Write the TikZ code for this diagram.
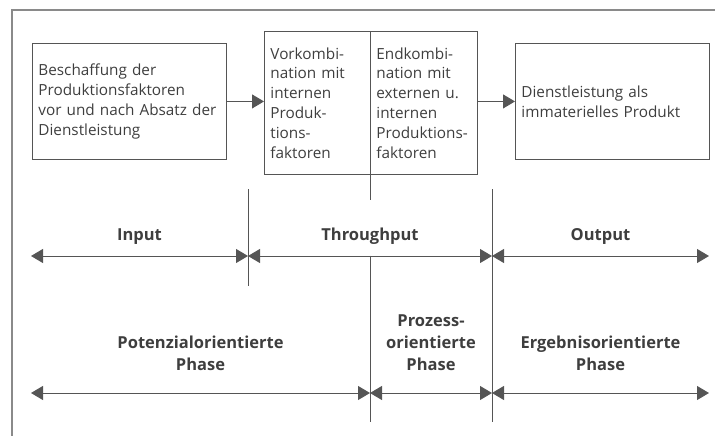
\documentclass[tikz,border=0pt]{standalone}
\usepackage{fontspec}
\setmainfont{Open Sans}
\usetikzlibrary{arrows.meta}
\definecolor{ink}{HTML}{3E3E3E}
\definecolor{frame}{HTML}{8A8A8A}
\definecolor{edge}{HTML}{555555}
\tikzset{
  box/.style={draw=edge, line width=0.9pt, text=ink, align=left, anchor=north west, inner xsep=6pt, inner ysep=0pt,
    font=\fontsize{15.3}{19.8}\selectfont},
  phase/.style={draw=edge, line width=1pt, {Triangle[length=12pt,width=14pt]}-{Triangle[length=12pt,width=14pt]}},
  tick/.style={draw=edge, line width=0.9pt},
  flow/.style={draw=edge, line width=1pt, -{Triangle[length=12pt,width=14pt]}},
  lab/.style={text=ink, font=\bfseries\fontsize{16.5}{22}\selectfont, align=center, inner sep=0pt}
}
\begin{document}
\begin{tikzpicture}[x=1pt,y=-1pt]
\useasboundingbox (0,0) rectangle (715,436);
% frame
\draw[frame, line width=1.2pt] (12,436) -- (12,10) -- (715,10);
% boxes
\node[box, minimum width=194pt, minimum height=116pt, text width=182pt] (b1) at (32,43)
  {Beschaffung der\\Produktionsfaktoren\\\mbox{vor und nach Absatz der}\\Dienstleistung};
\node[box, minimum width=106pt, minimum height=142pt, text width=94pt] (b2) at (264,31.5)
  {Vorkombi-\\nation mit\\internen\\Produk-\\tions-\\faktoren};
\node[box, minimum width=107pt, minimum height=142pt, text width=95pt] (b3) at (370,31.5)
  {Endkombi-\\nation mit\\externen u.\\internen\\\mbox{Produktions-}\\faktoren};
\node[box, minimum width=194pt, minimum height=116pt, text width=182pt] (b4) at (515,43)
  {Dienstleistung als\\immaterielles Produkt};
\draw[flow] (b1.east) -- (b2.west |- b1.east);
\draw[flow] (b3.east |- b4.west) -- (b4.west);
% coordinates
\coordinate (xL) at (31,256);
\coordinate (xA) at (248,256);
\coordinate (xB) at (492,256);
\coordinate (xR) at (709,256);
\coordinate (yL) at (31,393);
\coordinate (yA) at (370,393);
\coordinate (yB) at (492,393);
\coordinate (yR) at (709,393);
\coordinate (tA1) at (248,189);
\coordinate (tA2) at (248,286);
\coordinate (tB1) at (492,189);
\coordinate (tB2) at (492,422);
\coordinate (tC1) at (370,200);
\coordinate (tC2) at (370,255.5);
\coordinate (tC3) at (370,422);
% ticks
\draw[tick] (tA1) -- (tA2);
\draw[tick] (tB1) -- (tB2);
\draw[tick] (b3.north west) -- (tC1);
\draw[tick] (tC2) -- (tC3);
% arrows
\draw[phase] (xL) -- (xA);
\draw[phase] (xA) -- (xB);
\draw[phase] (xB) -- (xR);
\draw[phase] (yL) -- (yA);
\draw[phase] (yA) -- (yB);
\draw[phase] (yB) -- (yR);
% labels
\node[lab, anchor=base] (lIn) at (139.5,240) {Input};
\node[lab, anchor=base] (lTh) at (370,240) {Throughput};
\node[lab, anchor=base] (lOut) at (600.5,240) {Output};
\node[lab, anchor=base] (lPot) at (200.5,370) {Potenzialorientierte\\Phase};
\node[lab, anchor=base] (lPro) at (431,370) {Prozess-\\orientierte\\Phase};
\node[lab, anchor=base] (lErg) at (600.5,370) {Ergebnisorientierte\\Phase};
\end{tikzpicture}
\end{document}
